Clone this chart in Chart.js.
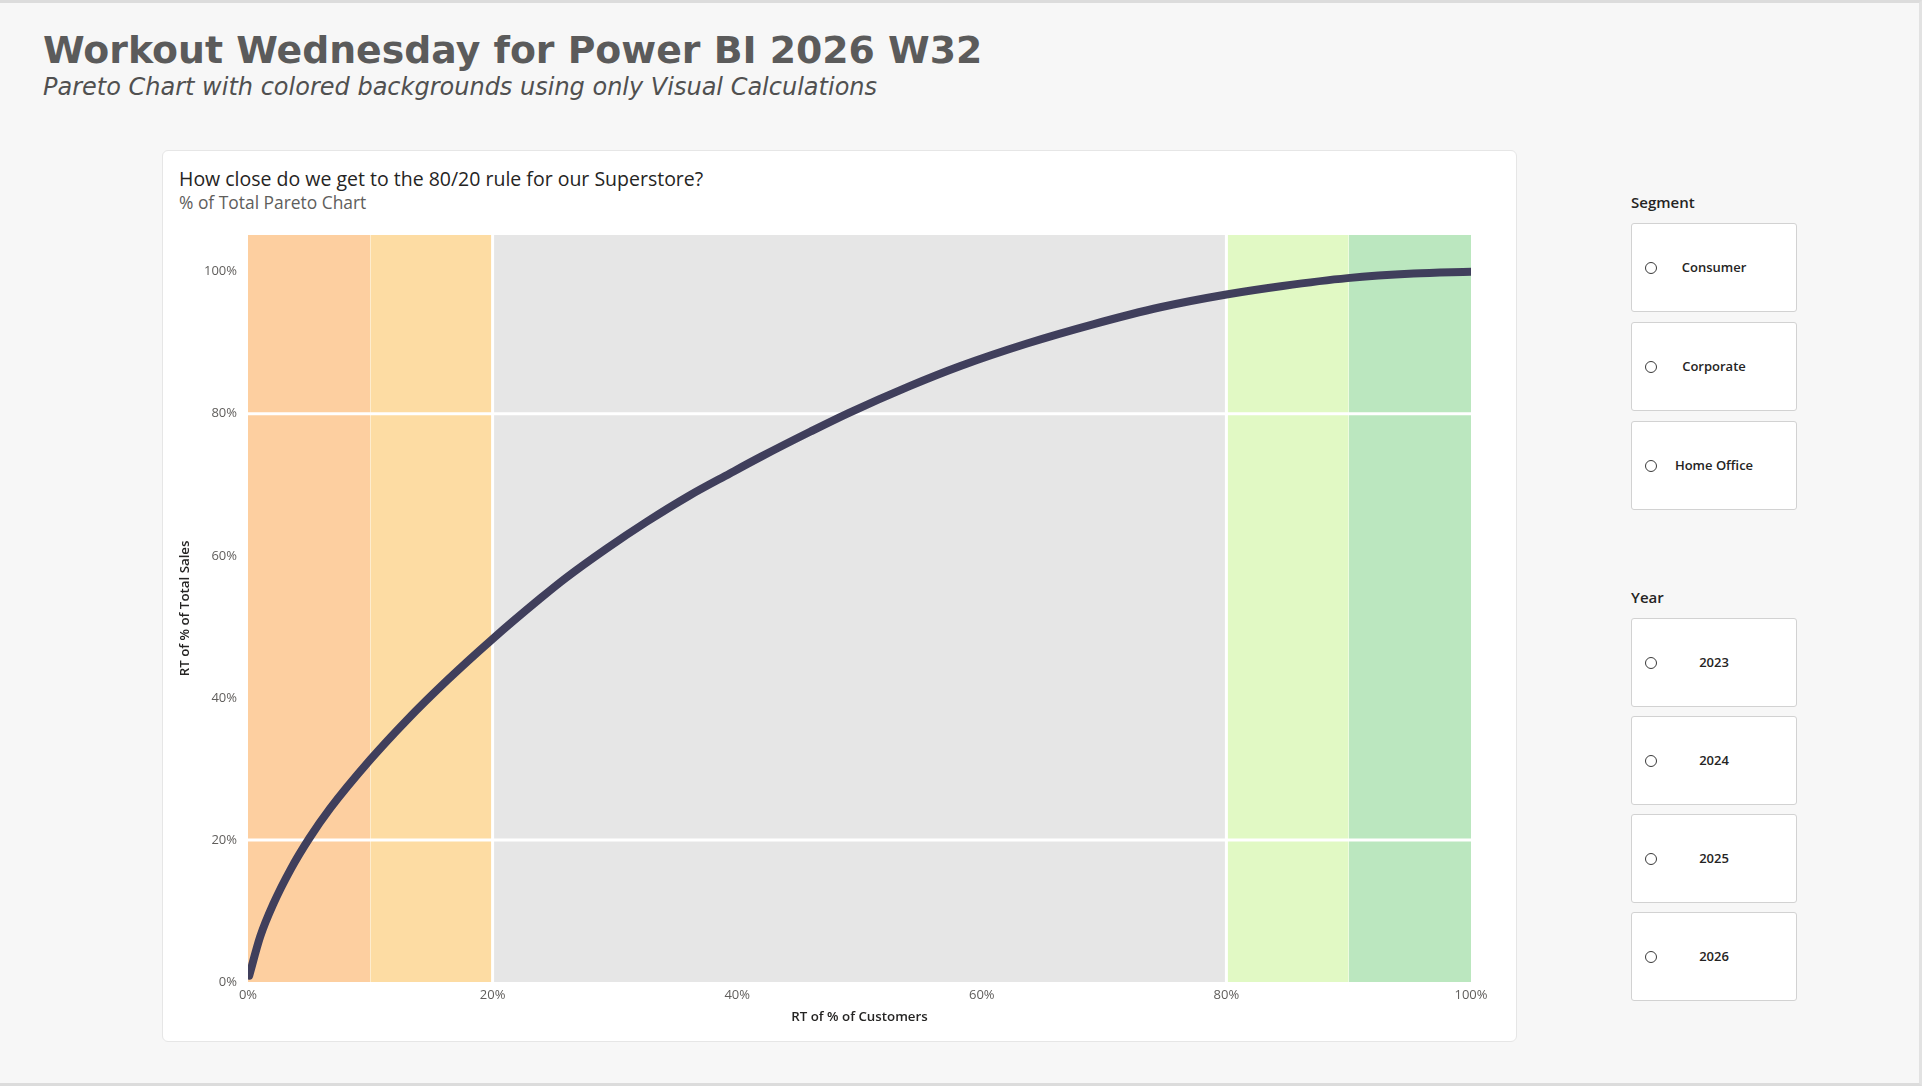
<!DOCTYPE html>
<html>
<head>
<meta charset="utf-8">
<title>Workout Wednesday for Power BI 2026 W32</title>
<script src="https://cdn.jsdelivr.net/npm/chart.js@4.4.1/dist/chart.umd.min.js"></script>
<style>
  html, body { margin: 0; padding: 0; }
  body {
    width: 1922px; height: 1086px; overflow: hidden;
    background: #f7f7f7; position: relative;
    font-family: "Open Sans", sans-serif;
  }
  .frame {
    position: absolute; left: 0; top: 0; width: 1919px; height: 1080px;
    border-top: 3px solid #dcdcdc; border-bottom: 3px solid #dcdcdc; border-right: 3px solid #e2e2e2;
  }
  .title {
    position: absolute; left: 43px; top: 31px; margin: 0;
    font: bold 37.8px/38px "DejaVu Sans", sans-serif; color: #5b5b5b; white-space: nowrap;
  }
  .subtitle {
    position: absolute; left: 43px; top: 75px;
    font: italic 24px/24px "DejaVu Sans", sans-serif; color: #505050; white-space: nowrap;
  }
  .card {
    position: absolute; left: 162px; top: 150px; width: 1353px; height: 890px;
    background: #fff; border: 1px solid #e6e6e6; border-radius: 6px;
  }
  .card-title {
    position: absolute; left: 179px; top: 169px;
    font-size: 19.5px; line-height: 19.5px; color: #252423; white-space: nowrap;
  }
  .card-sub {
    position: absolute; left: 179px; top: 193.5px;
    font-size: 17.4px; line-height: 17.4px; color: #605e5c; white-space: nowrap;
  }
  #chartWrap { position: absolute; left: 165px; top: 216px; width: 1340px; height: 821px; }
  .slicer-head {
    position: absolute; left: 1631px;
    font-weight: 600; font-size: 15px; line-height: 15px; color: #252423;
  }
  .slicer-item {
    position: absolute; left: 1631px; width: 166px; height: 89px;
    background: #fff; border: 1px solid #d2d2d2; border-radius: 3px; box-sizing: border-box;
  }
  .slicer-item .radio {
    position: absolute; left: 13px; top: 38px; width: 10px; height: 10px;
    border: 1.3px solid #3a3a3a; border-radius: 50%;
  }
  .slicer-item .label {
    position: absolute; left: 0; right: 0; top: 36px; text-align: center;
    font-weight: 600; font-size: 13px; line-height: 14px; color: #252423;
  }
</style>
</head>
<body>
<div class="frame"></div>
<h1 class="title">Workout Wednesday for Power BI 2026 W32</h1>
<div class="subtitle">Pareto Chart with colored backgrounds using only Visual Calculations</div>
<div class="card"></div>
<div class="card-title">How close do we get to the 80/20 rule for our Superstore?</div>
<div class="card-sub">% of Total Pareto Chart</div>
<div id="chartWrap"><canvas id="paretoChart"></canvas></div>
<div id="slicers"></div>

<script>
// running % of customers (x) and running % of total sales (y)
const pctCustomers = [0.1, 1.0, 2.1, 3.5, 5.0, 6.7, 10.0, 13.0, 16.3, 20.0, 23.9, 26.0, 29.3, 32.6,
    36.0, 39.4, 42.0, 46.0, 49.1, 54.1, 58.2, 63.7, 69.1, 74.6, 80.0, 84.6, 89.9, 95.3, 100];
const pctSales = [0.9, 6.4, 11.1, 15.9, 20.2, 24.4, 31.3, 36.9, 42.5, 48.3, 54.0, 56.9, 61.0, 64.8,
    68.4, 71.6, 74.0, 77.5, 80.1, 83.9, 86.7, 89.9, 92.6, 95.0, 96.8, 98.0, 99.1, 99.75, 100];

// background bands along the customer axis
const bandEdges = [0, 10, 20, 80, 90, 100];
const bandColors = ['#fdcfa0', '#fddca3', '#e6e6e6', '#e1f9c4', '#bbe7bf'];

// white separator lines
const splitX = [20, 80];
const splitY = [20, 80];

const xTicks = [0, 20, 40, 60, 80, 100];
const yTicks = [0, 20, 40, 60, 80, 100];
const yTop = 105.2;

const segments = ['Consumer', 'Corporate', 'Home Office'];
const years = ['2023', '2024', '2025', '2026'];

Chart.defaults.font.family = '"Open Sans", sans-serif';

const datasets = [];

datasets.push({
    label: 'RT of % of Total Sales',
    data: pctCustomers.map((x, i) => ({x: x, y: pctSales[i]})),
    borderColor: '#403f5c',
    borderWidth: 8,
    borderCapStyle: 'round',
    borderJoinStyle: 'round',
    pointRadius: 0,
    cubicInterpolationMode: 'monotone',
    fill: false,
    order: 0
});

splitX.forEach(v => datasets.push({
    data: [{x: v, y: 0}, {x: v, y: yTop}],
    borderColor: '#ffffff', borderWidth: 3, pointRadius: 0, fill: false, order: 1
}));
splitY.forEach(v => datasets.push({
    data: [{x: 0, y: v}, {x: 100, y: v}],
    borderColor: '#ffffff', borderWidth: 3, pointRadius: 0, fill: false, order: 1
}));

bandColors.forEach((c, i) => datasets.push({
    data: [{x: bandEdges[i], y: yTop}, {x: bandEdges[i + 1], y: yTop}],
    borderWidth: 0, pointRadius: 0, fill: 'origin', backgroundColor: c, order: 2
}));

let paretoChart = document.getElementById('paretoChart');
if (paretoChart) {
    new Chart(paretoChart, {
        type: 'line',
        data: {datasets: datasets},
        options: {
            responsive: true,
            maintainAspectRatio: false,
            animation: false,
            layout: {padding: {top: 0, right: 34, bottom: 0, left: 0}},
            plugins: {legend: {display: false}, tooltip: {enabled: false}},
            scales: {
                x: {
                    type: 'linear', min: 0, max: 100,
                    afterBuildTicks: s => { s.ticks = xTicks.map(v => ({value: v})); },
                    afterFit: s => { s.height = 55; },
                    grid: {display: false, drawTicks: false},
                    border: {display: false},
                    ticks: {padding: 5, color: '#605e5c', font: {size: 13}, callback: v => v + '%'},
                    title: {display: true, text: 'RT of % of Customers', color: '#252423',
                        font: {size: 13.3, weight: 600}, padding: {top: 0, bottom: 12}}
                },
                y: {
                    type: 'linear', min: 0, max: yTop,
                    afterBuildTicks: s => { s.ticks = yTicks.map(v => ({value: v})); },
                    afterFit: s => { s.width = 83; },
                    grid: {display: false, drawTicks: false},
                    border: {display: false},
                    ticks: {padding: 11, color: '#605e5c', font: {size: 13}, callback: v => v + '%'},
                    title: {display: true, text: 'RT of % of Total Sales', color: '#252423',
                        font: {size: 13.3, weight: 600}, padding: {top: 12, bottom: 0}}
                }
            }
        }
    });
}

// slicers on the right
const slicers = document.getElementById('slicers');
function addSlicer(head, headTop, items, firstTop, pitch) {
    const h = document.createElement('div');
    h.className = 'slicer-head';
    h.style.top = headTop + 'px';
    h.textContent = head;
    slicers.appendChild(h);
    items.forEach((name, i) => {
        const box = document.createElement('div');
        box.className = 'slicer-item';
        box.style.top = (firstTop + i * pitch) + 'px';
        box.innerHTML = '<div class="radio"></div><div class="label"></div>';
        box.querySelector('.label').textContent = name;
        slicers.appendChild(box);
    });
}
addSlicer('Segment', 195, segments, 222.5, 99.3);
addSlicer('Year', 590, years, 617.5, 98);
</script>
</body>
</html>
